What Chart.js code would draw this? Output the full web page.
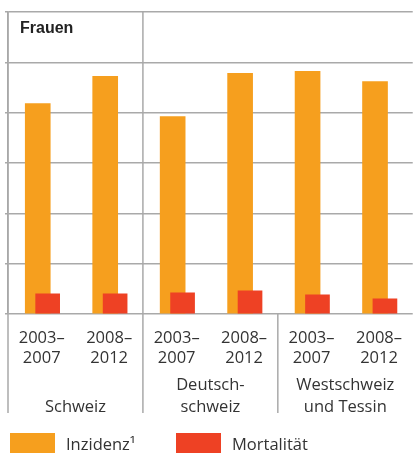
<!DOCTYPE html>
<html>
<head>
<meta charset="utf-8">
<script src="https://cdn.jsdelivr.net/npm/chart.js@4"></script>
<style>
  html, body { margin: 0; padding: 0; background: #fff; }
  #wrap { position: relative; width: 416px; height: 453px; overflow: hidden; }
  #legend { position: absolute; left: 0; top: 433px; width: 416px; height: 22px;
            font-family: "Open Sans", sans-serif; font-size: 16.5px; color: #333; }
  .item { position: absolute; top: 0; height: 22px; }
  .box { position: absolute; top: 0; width: 45px; height: 22px; }
  .txt { position: absolute; top: 0; line-height: 22px; white-space: nowrap; }
</style>
</head>
<body>
<div id="wrap">
  <canvas id="c" width="416" height="453"></canvas>
  <div id="legend"></div>
</div>
<script>
// ---- data ----
const panelTitle = 'Frauen';
const categories = ['2003–2007', '2008–2012', '2003–2007', '2008–2012', '2003–2007', '2008–2012'];
const yearTicks = [['2003–', '2007'], ['2008–', '2012'], ['2003–', '2007'], ['2008–', '2012'], ['2003–', '2007'], ['2008–', '2012']];
const regions = ['Schweiz', ['Deutsch-', 'schweiz'], ['Westschweiz', 'und Tessin']];
const incidence = [20.9, 23.6, 19.6, 23.9, 24.1, 23.1];
const mortality = [2.0, 2.0, 2.1, 2.3, 1.9, 1.5];
const seriesNames = ['Inzidenz¹', 'Mortalität'];
const yMin = 0, yMax = 30, yStep = 5;

// ---- styles ----
const ORANGE = '#F69F1E';
const RED = '#EE4124';
const GRID = '#a9a9a9';
const TEXT = '#333333';
const FONT = '"Open Sans", sans-serif';

const toPoints = arr => arr.map((v, i) => ({ x: i, y: v }));
const n = categories.length;

const separators = {
  id: 'separators',
  afterDatasetsDraw(chart) {
    const { ctx, chartArea } = chart;
    const xg = chart.scales.xg;
    const nG = regions.length;
    const bounds = [];
    for (let k = 0; k < nG; k++) {
      const left = k === 0 ? chartArea.left : (xg.getPixelForTick(k - 1) + xg.getPixelForTick(k)) / 2;
      bounds.push({ x: left, fromTop: k < 2 });
    }
    ctx.save();
    ctx.strokeStyle = GRID;
    ctx.lineWidth = 1.5;
    bounds.forEach(b => {
      ctx.beginPath();
      ctx.moveTo(b.x, b.fromTop ? chartArea.top - 0.75 : chartArea.bottom);
      ctx.lineTo(b.x, xg.bottom);
      ctx.stroke();
    });
    ctx.fillStyle = '#222';
    ctx.font = 'bold 16px "Liberation Sans", Arial, sans-serif';
    ctx.textBaseline = 'alphabetic';
    ctx.fillText(panelTitle, chartArea.left + 12, chartArea.top + 21);
    ctx.restore();
  }
};

const chart = new Chart(document.getElementById('c'), {
  type: 'bar',
  data: {
    datasets: [
      { label: seriesNames[0], data: toPoints(incidence), backgroundColor: ORANGE,
        xAxisID: 'xi', yAxisID: 'y', barThickness: 25, grouped: false, order: 1 },
      { label: seriesNames[1], data: toPoints(mortality), backgroundColor: RED,
        xAxisID: 'xr', yAxisID: 'y', barThickness: 24, grouped: false, order: 0 }
    ]
  },
  options: {
    responsive: false,
    animation: false,
    layout: { padding: { left: 5, top: 12, right: 0, bottom: 40 } },
    plugins: { legend: { display: false }, tooltip: { enabled: false } },
    scales: {
      y: {
        min: yMin, max: yMax,
        ticks: { display: false, stepSize: yStep },
        grid: { color: GRID, lineWidth: 1.5, tickLength: 3, drawTicks: true },
        border: { display: true, color: GRID, width: 1.5 }
      },
      x: {
        type: 'category', position: 'bottom', labels: yearTicks, offset: true,
        grid: { display: false, drawTicks: false }, border: { display: false },
        ticks: { padding: 14, color: TEXT, maxRotation: 0, autoSkip: false,
                 font: { family: FONT, size: 16.5, lineHeight: '20px' } },
        afterFit: s => { s.height = 54; }
      },
      xg: {
        type: 'category', position: 'bottom', labels: regions, offset: true,
        grid: { display: false, drawTicks: false }, border: { display: false },
        ticks: { padding: 17, color: TEXT, maxRotation: 0, autoSkip: false, crossAlign: 'far',
                 font: { family: FONT, size: 16.5, lineHeight: '22px' } },
        afterFit: s => { s.height = 45; }
      },
      xi: { type: 'linear', display: false, offset: false, grid: { offset: false },
            min: -0.5 + 0.059, max: n - 0.5 + 0.059 },
      xr: { type: 'linear', display: false, offset: false, grid: { offset: false },
            min: -0.5 - 0.088, max: n - 0.5 - 0.088 }
    }
  },
  plugins: [separators]
});

// HTML legend built from the chart's datasets
const legendEl = document.getElementById('legend');
const legendX = [10, 176];
chart.data.datasets.forEach((ds, i) => {
  const item = document.createElement('div');
  item.className = 'item';
  item.style.left = legendX[i] + 'px';
  const box = document.createElement('div');
  box.className = 'box';
  box.style.background = ds.backgroundColor;
  const txt = document.createElement('div');
  txt.className = 'txt';
  txt.style.left = '56px';
  txt.textContent = ds.label;
  item.appendChild(box);
  item.appendChild(txt);
  legendEl.appendChild(item);
});
</script>
</body>
</html>
